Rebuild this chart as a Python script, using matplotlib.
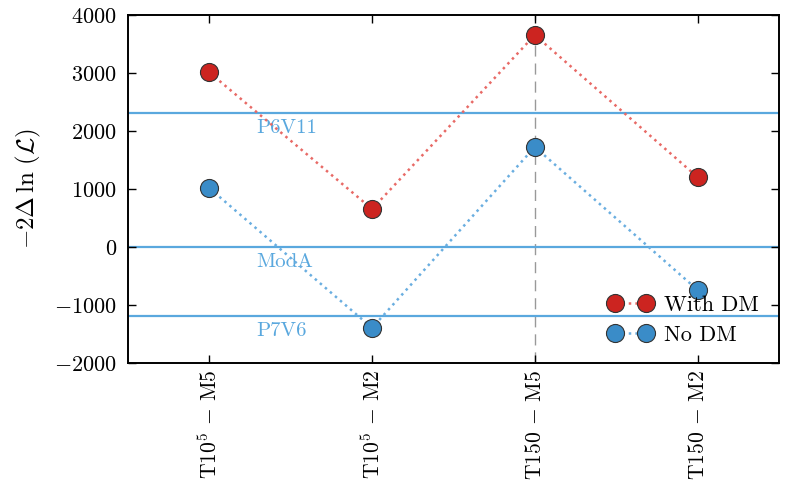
import matplotlib
matplotlib.use("Agg")
import matplotlib.pyplot as plt
from matplotlib.lines import Line2D

plt.rcParams.update({
    "font.family": "serif",
    "font.serif": ["cmr10"],
    "mathtext.fontset": "cm",
    "axes.formatter.use_mathtext": True,
    "font.size": 16,
})

models = [r"T10$^5$ $-$ M5", r"T10$^5$ $-$ M2", r"T150 $-$ M5", r"T150 $-$ M2"]
with_dm = [3010, 655, 3655, 1205]
no_dm = [1015, -1395, 1725, -740]
ref_names = ["P6V11", "ModA", "P7V6"]
ref_values = [2310, 0, -1190]

red = "#cc2420"
blue = "#3a8cc8"
line_blue = "#5aa8de"

fig = plt.figure(figsize=(7.9, 4.84), dpi=100)
ax = fig.add_axes([0.162, 0.25, 0.824, 0.719])

x = list(range(len(models)))

for name, val in zip(ref_names, ref_values):
    ax.axhline(val, color=line_blue, lw=1.6, zorder=1)
    ax.text(0.29, val - 110, name, color=line_blue, fontsize=15,
            ha="left", va="top", zorder=1)

ax.axvline(2, color="#999999", lw=1.0, ls=(0, (8, 5)), zorder=0)

# dotted connectors, lighter than the markers
ax.plot(x, with_dm, ls=":", lw=1.8, color="#e86a66", zorder=2)
ax.plot(x, no_dm, ls=":", lw=1.8, color="#6aaee0", zorder=2)
ax.plot(x, with_dm, ls="none", marker="o", ms=13, mfc=red, mec="#333333",
        mew=0.8, zorder=3)
ax.plot(x, no_dm, ls="none", marker="o", ms=13, mfc=blue, mec="#333333",
        mew=0.8, zorder=3)

handles = [
    Line2D([], [], ls=":", lw=1.8, color="#e86a66", marker="o", ms=13,
           mfc=red, mec="#333333", mew=0.8),
    Line2D([], [], ls=":", lw=1.8, color="#6aaee0", marker="o", ms=13,
           mfc=blue, mec="#333333", mew=0.8),
]

ax.set_xlim(-0.5, 3.5)
ax.set_ylim(-2000, 4000)
ax.set_xticks(x)
ax.set_xticklabels(models, rotation=90, fontsize=15.5)
ax.set_yticks(range(-2000, 4001, 1000))
ax.set_ylabel(r"$-2\Delta\,\ln\,(\mathcal{L})$", fontsize=18, labelpad=8)
ax.tick_params(direction="in", top=True, right=True, length=6, width=1,
               pad=8)
ax.tick_params(axis="x", pad=5)
for s in ax.spines.values():
    s.set_linewidth(1.4)

ax.legend(handles, ["With DM", "No DM"], loc="lower right", numpoints=2,
          frameon=False, fontsize=16, handlelength=2.0, handletextpad=0.5,
          labelspacing=0.45, bbox_to_anchor=(1.0, -0.005))

fig.savefig("out.png", dpi=100)
